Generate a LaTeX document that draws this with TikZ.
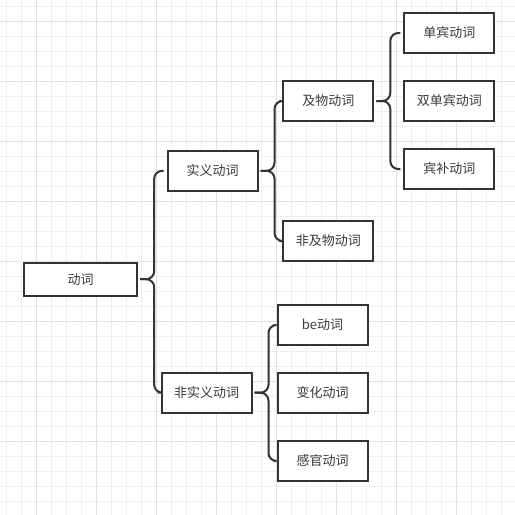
\documentclass[tikz,border=0pt]{standalone}
\usepackage{fontspec}
\setmainfont{Noto Sans CJK SC}
\definecolor{gridlight}{HTML}{EFEFEF}
\definecolor{griddark}{HTML}{E0E0E0}
\definecolor{boxgray}{HTML}{333333}
\definecolor{textgray}{HTML}{3A3A3A}
\begin{document}
\begin{tikzpicture}[x=1pt, y=-1pt,
          box/.style={draw=boxgray, line width=2pt, fill=white, inner sep=0pt,
                      minimum width=90pt, minimum height=40pt, text=textgray,
                      font=\fontsize{13}{15}\selectfont},
          brace/.style={draw=boxgray, line width=2pt, rounded corners=8pt}]
          \useasboundingbox (0,0) rectangle (515,515);
          \fill[white] (0,0) rectangle (515,515);
          \foreach \k in {0,...,33}{
              \draw[gridlight, line width=1pt] (6.7+15*\k,0) -- (6.7+15*\k,515);
              \draw[gridlight, line width=1pt] (0,6+15*\k) -- (515,6+15*\k);
          }
          \foreach \k in {0,...,7}{
              \draw[griddark, line width=1pt] (36.7+60*\k,0) -- (36.7+60*\k,515);
              \draw[griddark, line width=1pt] (0,21+60*\k) -- (515,21+60*\k);
          }
          \node[box, minimum width=113pt, minimum height=33pt] (dc) at (80.7,279.2) {动词};
          \node[box] (sy) at (212.5,170.8) {实义动词};
          \node[box] (fsy) at (206.5,392.7) {非实义动词};
          \node[box] (jw) at (328.3,101) {及物动词};
          \node[box] (fjw) at (328.3,241) {非及物动词};
          \node[box] (db) at (449.3,33) {单宾动词};
          \node[box] (sdb) at (449.3,101) {双单宾动词};
          \node[box] (bb) at (449.3,169) {宾补动词};
          \node[box] (be) at (322.5,325) {be动词};
          \node[box] (bh) at (322.5,393) {变化动词};
          \node[box] (gg) at (322.5,461) {感官动词};
          \foreach \p/\a/\b in {dc/sy/fsy, sy/jw/fjw, jw/db/bb, fsy/be/gg}{
              \draw[brace] ([xshift=2pt]\p.east) -- ++(14,0) |- ([xshift=-3pt]\a.west);
              \draw[brace] ([xshift=2pt]\p.east) -- ++(14,0) |- ([xshift=-3pt]\b.west);
          }
      \end{tikzpicture}
\end{document}
